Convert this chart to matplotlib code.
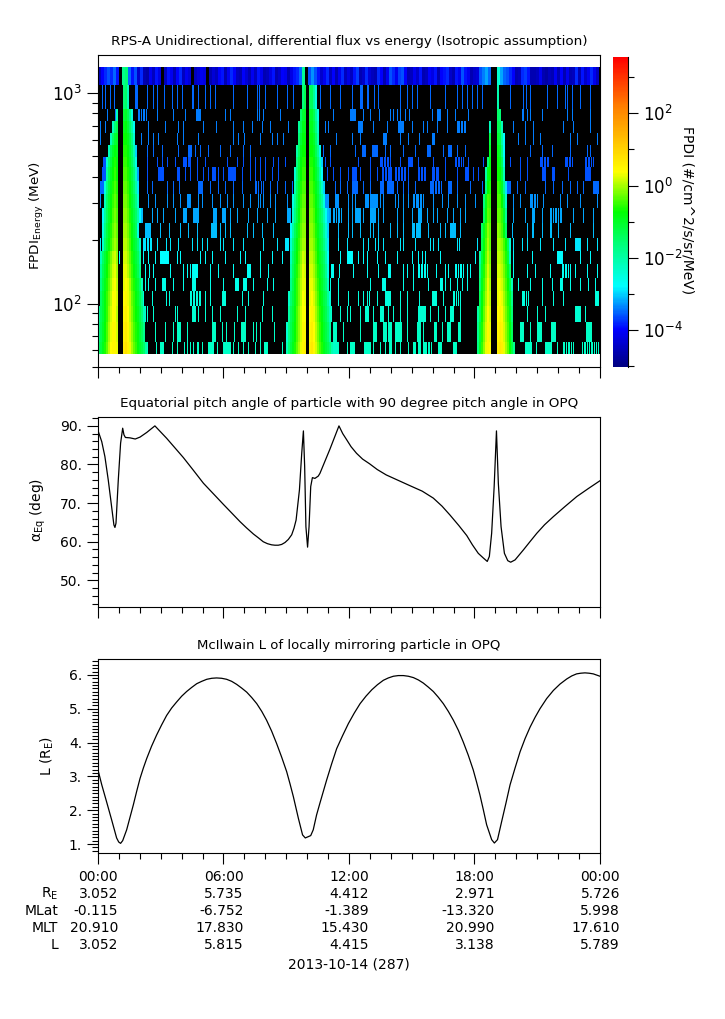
"""RPS-A flux spectrogram with pitch angle and L panels, 2013-10-14"""

import numpy as np
import matplotlib
matplotlib.use('Agg')
import matplotlib.pyplot as plt
from matplotlib.colors import LinearSegmentedColormap, LogNorm
from matplotlib.ticker import FixedLocator, NullFormatter, MultipleLocator, FormatStrFormatter

# energy channel edges (MeV), low to high
ENERGY_EDGES = [57.5, 65.6, 81.7, 97.3, 114.6, 132, 154, 177.5, 205, 242, 284,
                331, 382, 447, 496, 566, 645, 736, 840, 1091, 1327]
N_BINS = 502  # time bins over the day

# one count level (log10 flux) per channel
COUNT_LEVEL = [-2.3, -2.3, -2.4, -2.5, -2.6, -2.7, -2.8, -2.9, -3.1, -3.2,
               -3.3, -3.5, -3.6, -3.6, -3.5, -3.4, -3.4, -3.4, -3.5]

# time bins with counts, per channel
HITS_00 = [49, 58, 62, 63, 64, 65, 74, 79, 86, 89, 92, 95, 99, 100, 104, 110, 111, 112, 113, 114, 115, 119, 125, 126, 127, 128, 129, 130, 131, 132, 135, 140, 145, 150, 157, 162, 166, 167, 168, 169, 184, 232, 233, 234, 235, 236, 237, 238, 239, 240, 249, 252, 253, 254, 255, 256, 266, 267, 268, 269, 270, 271, 272, 275, 282, 287, 291, 292, 293, 297, 302, 310, 315, 316, 317, 320, 321, 322, 325, 326, 327, 328, 330, 331, 333, 340, 341, 342, 343, 355, 356, 357, 358, 427, 428, 429, 430, 431, 432, 433, 438, 447, 448, 449, 450, 451, 452, 453, 459, 465, 466, 468, 470, 471, 473, 475, 484, 486, 487, 489, 491, 493, 494, 496, 498, 500]
HITS_01 = [57, 67, 75, 79, 80, 81, 82, 89, 114, 115, 116, 117, 124, 128, 136, 143, 144, 145, 146, 147, 155, 158, 162, 176, 235, 236, 237, 238, 245, 262, 275, 276, 277, 278, 285, 286, 287, 288, 290, 291, 292, 293, 297, 298, 299, 300, 301, 302, 303, 309, 319, 320, 321, 322, 325, 336, 337, 338, 344, 349, 350, 351, 352, 360, 361, 362, 422, 423, 424, 425, 432, 439, 440, 441, 442, 443, 453, 454, 455, 456, 457, 488, 489, 490, 491, 492, 493]
HITS_02 = [47, 49, 55, 77, 79, 94, 95, 96, 97, 100, 107, 114, 122, 139, 147, 164, 174, 232, 233, 242, 249, 252, 262, 267, 268, 269, 270, 275, 282, 283, 284, 285, 290, 295, 302, 309, 320, 321, 322, 323, 324, 325, 326, 327, 332, 340, 347, 352, 353, 354, 355, 362, 429, 439, 447, 477, 478, 479, 480, 481, 482, 487]
HITS_03 = [45, 54, 68, 71, 92, 93, 95, 96, 98, 99, 101, 102, 107, 112, 124, 125, 126, 127, 144, 150, 165, 232, 240, 250, 260, 265, 269, 271, 279, 287, 288, 289, 290, 291, 292, 302, 309, 321, 334, 335, 336, 337, 338, 345, 355, 356, 358, 360, 362, 424, 425, 426, 428, 430, 444, 455, 465, 497, 498, 499, 500]
HITS_04 = [47, 50, 57, 64, 65, 66, 67, 75, 85, 94, 95, 96, 97, 112, 125, 137, 138, 139, 140, 145, 146, 147, 148, 155, 169, 175, 232, 240, 272, 284, 285, 286, 287, 305, 315, 330, 342, 343, 344, 347, 352, 359, 364, 369, 420, 432, 444, 454, 462, 463, 464, 472, 482, 490, 497]
HITS_05 = [47, 51, 55, 72, 85, 89, 92, 94, 95, 96, 97, 98, 99, 112, 120, 135, 149, 150, 151, 152, 162, 170, 233, 234, 235, 241, 255, 269, 280, 290, 291, 292, 305, 309, 315, 320, 321, 323, 324, 326, 327, 329, 338, 347, 350, 357, 358, 360, 362, 363, 365, 369, 372, 415, 429, 437, 452, 464, 465, 467, 468, 470, 472, 477, 489, 499]
HITS_06 = [0, 21, 45, 50, 57, 62, 63, 64, 65, 66, 67, 68, 69, 70, 79, 82, 102, 107, 114, 127, 142, 147, 162, 174, 184, 230, 242, 249, 250, 251, 252, 253, 254, 260, 265, 269, 279, 287, 299, 314, 320, 324, 327, 342, 377, 415, 434, 459, 460, 461, 462, 463, 464, 482, 492]
HITS_07 = [2, 45, 46, 47, 49, 50, 52, 53, 59, 68, 72, 80, 94, 99, 104, 109, 122, 125, 135, 145, 165, 179, 187, 188, 189, 190, 230, 240, 249, 265, 270, 277, 280, 285, 302, 305, 317, 332, 335, 340, 359, 361, 379, 415, 424, 429, 442, 455, 467, 477, 478, 479, 480, 481, 482, 489, 499]
HITS_08 = [4, 47, 48, 49, 50, 51, 52, 62, 71, 82, 90, 99, 113, 114, 115, 116, 117, 118, 122, 127, 132, 149, 155, 164, 175, 230, 240, 250, 254, 262, 272, 275, 280, 292, 299, 305, 314, 315, 316, 318, 319, 320, 321, 322, 330, 342, 347, 352, 353, 354, 355, 356, 357, 362, 414, 429, 434, 435, 444, 452, 453, 460, 472, 495]
HITS_09 = [5, 42, 43, 44, 54, 59, 65, 77, 85, 86, 87, 88, 95, 96, 97, 98, 99, 100, 115, 116, 117, 118, 124, 125, 126, 127, 132, 139, 150, 159, 169, 177, 189, 190, 191, 192, 227, 228, 229, 230, 231, 232, 235, 236, 238, 240, 241, 243, 250, 254, 257, 258, 259, 260, 261, 262, 265, 272, 273, 274, 275, 276, 277, 280, 285, 299, 305, 314, 320, 321, 322, 323, 329, 335, 339, 349, 355, 362, 367, 415, 427, 434, 435, 436, 444, 452, 453, 455, 457, 458, 460, 462, 463, 475, 485, 495]
HITS_10 = [2, 50, 57, 69, 75, 82, 89, 90, 91, 92, 100, 104, 114, 122, 129, 135, 145, 152, 160, 162, 165, 172, 177, 189, 194, 226, 227, 228, 229, 230, 237, 238, 239, 240, 250, 254, 257, 267, 268, 269, 270, 272, 273, 274, 275, 276, 277, 278, 279, 282, 285, 297, 300, 305, 310, 315, 316, 318, 319, 320, 322, 323, 325, 335, 344, 350, 359, 367, 377, 415, 422, 432, 433, 434, 436, 437, 439, 445, 462, 469, 482, 499]
HITS_11 = [2, 3, 4, 5, 49, 54, 69, 75, 81, 100, 101, 102, 103, 104, 112, 120, 127, 135, 144, 157, 158, 160, 163, 165, 172, 179, 187, 194, 225, 237, 242, 249, 254, 255, 256, 257, 258, 259, 265, 272, 282, 283, 284, 285, 289, 290, 291, 292, 293, 294, 295, 299, 305, 310, 317, 332, 333, 334, 335, 337, 338, 340, 341, 343, 350, 351, 352, 353, 359, 372, 384, 407, 408, 409, 410, 411, 412, 419, 427, 447, 455, 464, 472, 479, 485, 495, 496, 497, 498, 499, 500]
HITS_12 = [4, 5, 6, 7, 40, 49, 60, 61, 62, 63, 64, 65, 79, 80, 81, 87, 92, 99, 105, 110, 114, 115, 116, 117, 120, 125, 130, 131, 132, 133, 134, 135, 136, 137, 144, 152, 157, 162, 167, 174, 180, 229, 235, 242, 250, 254, 255, 256, 257, 258, 262, 272, 279, 284, 285, 287, 288, 290, 291, 292, 293, 297, 298, 300, 301, 303, 304, 306, 307, 310, 320, 321, 323, 324, 326, 327, 334, 335, 336, 338, 339, 340, 347, 359, 367, 368, 369, 370, 375, 380, 422, 429, 444, 445, 446, 447, 454, 455, 456, 470, 487, 488, 489, 490, 491, 492]
HITS_13 = [5, 6, 7, 49, 59, 64, 69, 77, 85, 86, 87, 88, 90, 91, 92, 99, 107, 129, 139, 145, 152, 157, 162, 167, 175, 180, 187, 227, 232, 260, 272, 282, 283, 284, 286, 287, 289, 290, 292, 302, 310, 311, 312, 313, 314, 320, 335, 347, 357, 358, 360, 361, 363, 365, 370, 385, 390, 412, 422, 429, 442, 443, 444, 446, 447, 449, 450, 467, 468, 469, 471, 472, 474, 487, 488, 490, 491, 493, 495]
HITS_14 = [49, 55, 64, 80, 90, 91, 92, 93, 97, 102, 110, 122, 132, 145, 152, 225, 232, 257, 264, 265, 266, 267, 274, 275, 276, 277, 278, 279, 287, 292, 305, 317, 329, 330, 331, 332, 345, 350, 351, 352, 353, 359, 367, 432, 444, 454, 472, 489, 492]
HITS_15 = [2, 43, 50, 55, 60, 79, 85, 100, 135, 140, 146, 162, 174, 179, 185, 219, 238, 254, 262, 285, 286, 287, 288, 302, 310, 321, 334, 335, 336, 420, 427, 435, 442, 472, 479, 499]
HITS_16 = [2, 7, 50, 67, 80, 85, 105, 118, 135, 145, 154, 164, 172, 190, 220, 227, 230, 260, 261, 262, 263, 264, 275, 289, 300, 301, 302, 303, 304, 305, 314, 325, 329, 339, 349, 359, 360, 361, 363, 364, 366, 367, 415, 427, 435, 465, 475, 492]
HITS_17 = [9, 17, 40, 41, 43, 45, 46, 48, 59, 75, 87, 98, 99, 100, 101, 102, 127, 132, 159, 161, 165, 182, 235, 252, 253, 254, 255, 256, 257, 265, 272, 281, 292, 295, 299, 302, 307, 311, 334, 339, 340, 341, 342, 349, 357, 370, 424, 425, 429, 432, 444, 469, 474, 492]
HITS_18 = [4, 7, 12, 16, 30, 37, 38, 39, 49, 55, 59, 66, 74, 79, 84, 94, 95, 100, 107, 112, 117, 135, 149, 159, 161, 167, 179, 189, 195, 222, 232, 242, 254, 262, 263, 264, 269, 270, 276, 280, 302, 309, 314, 319, 332, 347, 359, 364, 369, 374, 379, 384, 412, 425, 428, 432, 449, 459, 467, 469, 474, 482, 492]
HITS = [HITS_00, HITS_01, HITS_02, HITS_03, HITS_04, HITS_05, HITS_06, HITS_07, HITS_08, HITS_09,
        HITS_10, HITS_11, HITS_12, HITS_13, HITS_14, HITS_15, HITS_16, HITS_17, HITS_18]

# top channel, log10 flux, one value per 3 time bins (None = no data)
TOP_CHANNEL = [-4.5, -4.0, -3.8, -3.6, -3.8, -3.5, -3.9, None, -1.8, -1.6, -3.5, -3.9, -3.6, -4.4, -3.8,
               -4.6, -4.7, -4.1, -4.5, -3.9, -4.2, None, -4.5, -3.9, -4.1, -4.6, -4.0, -3.8, -4.5, -4.1,
               -4.3, None, -4.5, -4.3, -4.1, -4.2, None, -4.6, -4.3, -4.5, -4.0, -3.9, -4.6, -4.1, -3.8,
               -4.0, -4.5, -4.6, -4.0, -4.3, -4.6, -4.1, -4.5, -3.9, -4.1, -4.6, -4.5, -4.2, -3.9, -4.6,
               -4.4, -4.0, -4.1, -4.6, -4.2, -3.9, -3.8, -3.5, -1.9, None, -3.6, -3.3, -3.6, -3.9, -4.4,
               -4.1, -3.8, -4.5, -4.0, -4.6, -4.1, -3.8, -4.5, -4.2, -4.5, -3.9, -3.7, -4.6, -4.4, -3.8,
               -4.3, -4.5, -4.6, -3.8, -4.0, -4.6, -4.1, -3.6, -3.8, -4.1, -3.7, -3.6, -4.0, -4.6, -4.5,
               -4.1, -4.4, -3.9, -4.6, -4.5, -4.0, -4.2, -3.9, -4.6, -4.0, -3.9, -3.8, -4.4, -4.6, -3.9,
               -4.1, -3.6, -3.9, -4.1, -4.6, -4.4, -4.3, -3.6, -3.4, -3.2, -3.5, None, None, -2.4, -3.2, -3.5,
               -3.6, -3.8, -4.0, -4.6, -4.5, -3.8, -3.7, -3.9, -4.6, -4.6, -4.5, -4.1, -4.6, -4.7, -4.5,
               -4.6, -4.1, -4.6, -4.0, -4.6, -4.1, -4.6, -4.5, -3.8, -4.6, -3.9, -4.4, -4.1, -3.8, -4.1, -4.5]

# radiation belt passes: channel -> (first bin, log10 flux per 2 bins)
BELT_1A = {0: (0, [-1.6, -1.2, -0.9, -0.6, -0.3, 0.1, 0.4, 0.5, 0.5, 0.3]),
           1: (0, [-1.8, -1.3, -1, -0.7, -0.4, 0, 0.3, 0.5, 0.5, 0.2]),
           2: (0, [-2, -1.4, -1.1, -0.8, -0.5, -0.1, 0.2, 0.4, 0.4, 0.1]),
           3: (2, [-1.5, -1.1, -0.8, -0.5, -0.2, 0.1, 0.4, 0.4, 0.2]),
           4: (2, [-1.7, -1.2, -0.9, -0.6, -0.3, 0, 0.3, 0.4, 0.1]),
           5: (2, [-1.9, -1.3, -1, -0.7, -0.4, -0.1, 0.2, 0.3, 0]),
           6: (2, [-2.2, -1.5, -1.1, -0.8, -0.5, -0.2, 0.1, 0.2, -0.1]),
           7: (4, [-2.4, -1.5, -1.1, -0.8, -0.5, -0.2, 0, -0.2]),
           8: (4, [-2.6, -1.7, -1.2, -0.9, -0.6, -0.3, -0.1, -0.3]),
           9: (4, [-2.8, -1.9, -1.4, -1, -0.7, -0.4, -0.2, -0.4]),
           10: (6, [-2.2, -1.5, -1.1, -0.8, -0.5, -0.3, -0.5]),
           11: (6, [-2.5, -1.7, -1.2, -0.9, -0.6, -0.4, -0.6]),
           12: (8, [-2, -1.4, -1, -0.7, -0.5, -0.7]),
           13: (8, [-2.4, -1.6, -1.2, -0.8, -0.6, -0.8]),
           14: (10, [-2.2, -1.4, -1, -0.8, -0.9]),
           15: (12, [-2.2, -1.5, -1.1, -1]),
           16: (14, [-2.3, -1.6, -1.3]),
           17: (18, [-2.2])}
BELT_1B = {0: (25, [0.7, 0.8, 0.6, 0.3, 0, -0.3, -0.5, -0.8, -1, -1.2, -1.5, -2]),
           1: (25, [0.6, 0.7, 0.5, 0.2, -0.1, -0.4, -0.6, -0.8, -1.1, -1.4, -1.8]),
           2: (25, [0.5, 0.6, 0.4, 0.1, -0.2, -0.5, -0.7, -0.9, -1.2, -1.6, -2.2]),
           3: (25, [0.4, 0.5, 0.3, 0.1, -0.3, -0.5, -0.8, -1, -1.3, -1.8]),
           4: (25, [0.3, 0.4, 0.3, 0, -0.4, -0.6, -0.9, -1.1, -1.5, -2.2]),
           5: (25, [0.3, 0.3, 0.1, -0.2, -0.5, -0.8, -1, -1.3, -1.8]),
           6: (25, [0.2, 0.2, 0, -0.3, -0.6, -0.9, -1.1, -1.4, -2]),
           7: (25, [0.1, 0.1, -0.1, -0.4, -0.7, -1, -1.2, -1.6, -2.3]),
           8: (25, [0, 0, -0.2, -0.5, -0.8, -1.1, -1.4, -2.6]),
           9: (25, [-0.1, -0.1, -0.3, -0.6, -0.9, -1.2, -1.5, -2, -2.8, -3.1]),
           10: (25, [-0.2, -0.2, -0.4, -0.7, -1, -1.3, -1.7, -2.4]),
           11: (25, [-0.3, -0.3, -0.5, -0.8, -1.1, -1.5, -2, -2.9]),
           12: (25, [-0.4, -0.4, -0.6, -0.9, -1.2, -1.6, -2.3, -3.2]),
           13: (25, [-0.5, -0.5, -0.7, -1, -1.4, -1.9, -2.6]),
           14: (25, [-0.6, -0.6, -0.8, -1.1, -1.5, -2.1, -3]),
           15: (25, [-0.7, -0.7, -0.9, -1.2, -1.7, -2.4]),
           16: (25, [-0.9, -0.8, -1.1, -1.5, -2, -2.7]),
           17: (25, [-1.1, -1, -1.3, -1.8, -2.5]),
           18: (25, [-1.6, -1.5, -2.2])}
BELT_2A = {0: (188, [-2.2, -1.6, -1.2, -0.9, -0.6, -0.3, 0, 0.3, 0.5, 0.6]),
           1: (188, [-2.4, -1.7, -1.3, -1, -0.7, -0.4, -0.1, 0.2, 0.5, 0.5]),
           2: (190, [-2, -1.4, -1.1, -0.8, -0.4, -0.1, 0.2, 0.4, 0.4]),
           3: (190, [-2.3, -1.6, -1.2, -0.9, -0.5, -0.2, 0.1, 0.4, 0.3]),
           4: (192, [-1.8, -1.3, -0.9, -0.5, -0.2, 0.1, 0.3, 0.3]),
           5: (192, [-2, -1.4, -1, -0.6, -0.3, 0, 0.3, 0.2]),
           6: (192, [-2.2, -1.5, -1.1, -0.7, -0.4, -0.1, 0.2, 0.1]),
           7: (192, [-2.4, -1.7, -1.2, -0.8, -0.5, -0.2, 0, 0]),
           8: (192, [-2.8, -2, -1.4, -1, -0.6, -0.3, -0.1, -0.1]),
           9: (194, [-2.4, -1.7, -1.2, -0.8, -0.4, -0.2, -0.2]),
           10: (194, [-2.6, -1.9, -1.3, -0.9, -0.5, -0.3, -0.3]),
           11: (196, [-2.1, -1.4, -1, -0.6, -0.4, -0.4]),
           12: (196, [-2.4, -1.6, -1.1, -0.7, -0.5, -0.5]),
           13: (198, [-1.7, -1.2, -0.8, -0.6, -0.6]),
           14: (198, [-2, -1.4, -0.9, -0.7, -0.7]),
           15: (200, [-1.6, -1.1, -0.8, -0.8]),
           16: (200, [-1.9, -1.3, -0.9, -0.9]),
           17: (202, [-1.5, -1.1, -1]),
           18: (204, [-1.7, -1.3])}
BELT_2B = {0: (211, [0.6, 0.7, 0.5, 0.2, -0.1, -0.4, -0.6, -0.9, -1.1, -1.3, -1.6, -2.1]),
           1: (211, [0.5, 0.6, 0.4, 0.1, -0.2, -0.5, -0.7, -1, -1.2, -1.5, -2]),
           2: (211, [0.4, 0.5, 0.3, 0, -0.3, -0.6, -0.8, -1.1, -1.3, -1.7, -2.2]),
           3: (211, [0.3, 0.4, 0.2, -0.1, -0.4, -0.7, -0.9, -1.2, -1.4, -1.9, -2.5]),
           4: (211, [0.3, 0.3, 0.1, -0.2, -0.5, -0.8, -1, -1.3, -1.6, -2.3]),
           5: (211, [0.2, 0.2, 0, -0.3, -0.6, -0.9, -1.1, -1.4, -1.8, -2.6]),
           6: (211, [0.1, 0.1, -0.1, -0.4, -0.7, -1, -1.2, -1.5, -2, -2.8]),
           7: (211, [0, 0, -0.2, -0.5, -0.8, -1.1, -1.3, -1.7, -2.2, -2.9]),
           8: (211, [-0.1, -0.1, -0.3, -0.6, -0.9, -1.2, -1.4, -1.9, -2.4, -3]),
           9: (211, [-0.2, -0.2, -0.4, -0.7, -1, -1.3, -1.6, -2.1, -2.7, -3.1]),
           10: (211, [-0.3, -0.3, -0.5, -0.8, -1.1, -1.5, -1.9, -2.5]),
           11: (211, [-0.4, -0.4, -0.6, -0.9, -1.2, -1.7, -2.3, -3]),
           12: (211, [-0.5, -0.5, -0.7, -1, -1.4, -2, -2.8]),
           13: (211, [-0.6, -0.6, -0.8, -1.1, -1.6, -2.3, -3]),
           14: (211, [-0.7, -0.7, -0.9, -1.3, -1.8, -2.6]),
           15: (211, [-0.8, -0.8, -1, -1.5, -2.2]),
           16: (211, [-0.9, -0.9, -1.2, -1.7, -2.4]),
           17: (211, [-1, -1, -1.3, -1.9, -2.6]),
           18: (211, [-1.4, -1.4, -1.9, -2.6])}
BELT_3A = {0: (379, [-1.7, -1, -0.5, -0.1, 0.3, 0.5, 0.4]),
           1: (379, [-1.8, -1.1, -0.6, -0.2, 0.2, 0.5, 0.3]),
           2: (379, [-2, -1.3, -0.7, -0.3, 0.1, 0.4, 0.2]),
           3: (381, [-1.4, -0.8, -0.4, 0, 0.3, 0.1]),
           4: (381, [-1.6, -0.9, -0.5, -0.1, 0.3, 0]),
           5: (381, [-1.8, -1, -0.6, -0.2, 0.2, -0.1]),
           6: (381, [-2, -1.1, -0.7, -0.3, 0.1, -0.2]),
           7: (383, [-1.3, -0.8, -0.4, 0, -0.3]),
           8: (383, [-1.5, -0.9, -0.5, -0.1, -0.3]),
           9: (385, [-1.5, -0.8, -0.3, -0.4]),
           10: (385, [-1.7, -0.9, -0.4, -0.5]),
           11: (387, [-1.7, -0.7, -0.6]),
           12: (387, [-2, -0.9, -0.7]),
           13: (389, [-1.6, -0.8]),
           14: (391, [-1]),
           15: (391, [-1.2]),
           16: (391, [-2.2])}
BELT_3B = {0: (399, [0.6, 0.7, 0.6, 0.3, 0, -0.3, -0.7, -1.2, -1.8]),
           1: (399, [0.5, 0.6, 0.5, 0.2, -0.1, -0.4, -0.8, -1.4]),
           2: (399, [0.4, 0.5, 0.4, 0.1, -0.2, -0.5, -0.9, -1.6]),
           3: (399, [0.3, 0.4, 0.3, 0, -0.3, -0.6, -1, -1.8]),
           4: (399, [0.3, 0.3, 0.2, -0.1, -0.4, -0.7, -1.2, -2.2]),
           5: (399, [0.2, 0.2, 0.1, -0.2, -0.5, -0.9, -1.5]),
           6: (399, [0.1, 0.1, 0, -0.3, -0.6, -1.1, -2.3]),
           7: (399, [0, 0, -0.1, -0.4, -0.7, -1.3, -2.5]),
           8: (399, [-0.1, -0.2, -0.4, -0.8, -1.5]),
           9: (399, [-0.3, -0.3, -0.5, -1, -1.9]),
           10: (399, [-0.4, -0.4, -0.7, -1.3, -2.4]),
           11: (399, [-0.5, -0.6, -1, -1.8, -2.9]),
           12: (399, [-0.7, -0.7, -1.2, -2.2]),
           13: (399, [-0.8, -0.9, -1.4, -2.6]),
           14: (399, [-0.9, -1, -1.7, -2.8]),
           15: (399, [-1.1, -1.2, -2, -2.8]),
           16: (399, [-1.3, -1.4, -2.2]),
           17: (399, [-1.5, -1.6]),
           18: (399, [-2.1])}
BELTS = [BELT_1A, BELT_1B, BELT_2A, BELT_2B, BELT_3A, BELT_3B]

# equatorial pitch angle
ALPHA_HOURS = [0, .18, .33, .49, .65, .76, .81, .86, .97, 1.08, 1.18, 1.24, 1.31, 1.53, 1.78, 2.01, 2.33, 2.72, 3.0, 3.28,
               3.68, 4.08, 4.56, 5.04, 5.52, 5.99, 6.4, 6.79, 7.1, 7.43, 7.67, 7.9, 8.1, 8.3, 8.46, 8.62, 8.78, 8.94,
               9.1, 9.26, 9.37, 9.47, 9.63, 9.74, 9.82, 9.88, 9.94, 10.02, 10.09, 10.17, 10.25, 10.37, 10.53, 10.61,
               11.09, 11.52, 11.7, 11.89, 12.1, 12.36, 12.65, 12.98, 13.35, 13.78, 14.35, 14.92, 15.5, 16.03, 16.45,
               16.83, 17.25, 17.63, 17.9, 18.18, 18.42, 18.61, 18.71, 18.82, 18.94, 19.05, 19.14, 19.27, 19.43, 19.59,
               19.73, 19.94, 20.14, 20.34, 20.65, 20.98, 21.35, 21.77, 22.3, 22.89, 23.45, 24]
ALPHA_DEG = [88.8, 85.9, 82.05, 76, 69.1, 64.35, 63.7, 64.8, 76, 85.5, 89.4, 87.7, 87, 86.9, 86.6, 87.1, 88.3, 90, 88.4, 86.8,
             84.3, 81.8, 78.5, 75.15, 72.4, 69.7, 67.4, 65.2, 63.6, 62, 61, 60, 59.5, 59.2, 59.1, 59.1, 59.3, 59.8,
             60.6, 61.8, 63.5, 65.6, 73.4, 82.9, 88.7, 79.5, 63.9, 58.6, 63.9, 74.3, 76.6, 76.4, 77, 77.7,
             84, 90, 88, 86.4, 84.6, 82.9, 81.4, 80.2, 78.7, 77.3, 75.9, 74.5, 73.1, 71.3, 69.2,
             66.9, 64.2, 61.6, 59.2, 57, 55.8, 54.9, 56.2, 62.2, 74.3, 88.7, 75.1, 63.9, 57, 55.1,
             54.7, 55.3, 56.6, 57.9, 60, 62.2, 64.4, 66.5, 69, 71.7, 73.8, 75.8]

# McIlwain L
L_HOURS = [0, .18, .41, .65, .89, .99, 1.08, 1.18, 1.37, 1.69, 1.85, 2.01, 2.17, 2.33, 2.56, 2.8, 3.04, 3.28, 3.52, 3.76,
           4.0, 4.24, 4.48, 4.72, 4.96, 5.2, 5.44, 5.67, 5.91, 6.15, 6.39, 6.63, 6.87, 7.11, 7.35, 7.59, 7.83, 8.06,
           8.3, 8.54, 8.78, 9.02, 9.18, 9.34, 9.58, 9.78, 9.91, 10.06, 10.17, 10.29, 10.45, 10.61, 10.77, 10.93,
           11.17, 11.41, 11.69, 11.97, 12.25, 12.53, 12.81, 13.09, 13.36, 13.64, 13.88, 14.12, 14.36, 14.6, 14.84,
           15.08, 15.32, 15.55, 15.79, 16.03, 16.27, 16.51, 16.75, 16.99, 17.23, 17.46, 17.7, 17.94, 18.1, 18.26,
           18.42, 18.58, 18.82, 18.95, 19.1, 19.3, 19.5, 19.7, 19.94, 20.18, 20.42, 20.66, 20.9, 21.13, 21.45, 21.77,
           22.09, 22.41, 22.65, 22.88, 23.08, 23.28, 23.48, 23.68, 24]
L_VALUES = [3.19, 2.75, 2.25, 1.72, 1.18, 1.06, 1.02, 1.1, 1.42, 2.16, 2.56, 2.94, 3.25, 3.53, 3.89, 4.22, 4.52, 4.8, 5.02, 5.2,
            5.37, 5.51, 5.63, 5.74, 5.81, 5.87, 5.9, 5.91, 5.9, 5.87, 5.81, 5.72, 5.61, 5.49, 5.33, 5.15, 4.92, 4.66,
            4.34, 3.97, 3.57, 3.14, 2.78, 2.4, 1.76, 1.27, 1.18, 1.22, 1.25, 1.42, 1.86, 2.21, 2.55, 2.89,
            3.37, 3.82, 4.2, 4.56, 4.87, 5.15, 5.37, 5.56, 5.71, 5.84, 5.91, 5.96, 5.98, 5.98, 5.96,
            5.92, 5.85, 5.76, 5.64, 5.51, 5.34, 5.15, 4.92, 4.66, 4.36, 4.02, 3.63, 3.19, 2.83, 2.45,
            2.02, 1.57, 1.13, 1.03, 1.13, 1.67, 2.2, 2.75, 3.25, 3.73, 4.12, 4.46, 4.75, 5, 5.3, 5.54,
            5.73, 5.88, 5.97, 6.03, 6.05, 6.06, 6.05, 6.03, 5.96]

# ephemeris table under the x axis
TICK_HOURS = [0, 6, 12, 18, 24]
TIME_LABELS = ['00:00', '06:00', '12:00', '18:00', '00:00']
EPHEM_NAMES = ['R$_{\\mathrm{E}}$', 'MLat', 'MLT', 'L']
EPHEM_RE = ['3.052', '5.735', '4.412', '2.971', '5.726']
EPHEM_MLAT = ['-0.115', '-6.752', '-1.389', '-13.320', '5.998']
EPHEM_MLT = ['20.910', '17.830', '15.430', '20.990', '17.610']
EPHEM_L = ['3.052', '5.815', '4.415', '3.138', '5.789']

W, H = 725, 1019
TITLE_SIZE = 9.7


def panel(left, top, right, bottom):
    return fig.add_axes([left / W, 1 - bottom / H, (right - left) / W, (bottom - top) / H])


# fill the flux table
flux = np.full((len(ENERGY_EDGES) - 1, N_BINS), np.nan)
for ch, bins in enumerate(HITS):
    flux[ch, bins] = 10.0 ** COUNT_LEVEL[ch]
for i, level in enumerate(TOP_CHANNEL):
    if level is not None:
        flux[19, i * 3:i * 3 + 3] = 10.0 ** level
for belt in BELTS:
    for ch, (first, levels) in belt.items():
        for i, level in enumerate(levels):
            flux[ch, first + i * 2:first + i * 2 + 2] = 10.0 ** level

colors = [(0, (0, 0, .5)), (.12, (0, 0, 1)), (.26, (0, 1, 1)), (.39, (0, 1, .5)), (.5, (0, 1, 0)),
          (.63, (1, 1, 0)), (.84, (1, .5, 0)), (1, (1, 0, 0))]
cmap = LinearSegmentedColormap.from_list('rainbow_fpdi', colors, N=256)
cmap.set_bad('black')
norm = LogNorm(vmin=10 ** -5.02, vmax=10 ** 3.56)

plt.rcParams['mathtext.default'] = 'regular'
fig = plt.figure(figsize=(W / 100, H / 100), dpi=100)

ax1 = panel(98, 55, 600, 367)
ax2 = panel(98, 417, 600, 607)
ax3 = panel(98, 659, 600, 853)
cax = panel(613, 57, 628, 367)

time_edges = np.linspace(0, 24, N_BINS + 1)
mesh = ax1.pcolormesh(time_edges, ENERGY_EDGES, np.ma.masked_invalid(flux), cmap=cmap, norm=norm,
                      antialiased=False, linewidth=0, rasterized=True)
ax1.set_yscale('log')
ax1.set_ylim(50, 1516)
ax1.set_ylabel('FPDI$_{Energy}$ (MeV)', fontsize=TITLE_SIZE, va='center')
ax1.yaxis.set_label_coords((37 - 98) / 502, .484)
ax1.set_title('RPS-A Unidirectional, differential flux vs energy (Isotropic assumption)', fontsize=TITLE_SIZE, pad=7)
ax1.yaxis.set_minor_formatter(NullFormatter())

ax2.plot(ALPHA_HOURS, ALPHA_DEG, color='black', lw=.9)
ax2.set_ylim(43.1, 92.3)
ax2.yaxis.set_major_locator(MultipleLocator(10))
ax2.yaxis.set_minor_locator(MultipleLocator(2))
ax2.yaxis.set_major_formatter(FormatStrFormatter('%d.'))
ax2.set_ylabel('$\\alpha_{Eq}$ (deg)', fontsize=10, va='center')
ax2.yaxis.set_label_coords((38 - 98) / 502, .51)
ax2.set_title('Equatorial pitch angle of particle with 90 degree pitch angle in OPQ', fontsize=TITLE_SIZE, pad=7)

ax3.plot(L_HOURS, L_VALUES, color='black', lw=.9)
ax3.set_ylim(.735, 6.47)
ax3.yaxis.set_major_locator(MultipleLocator(1))
ax3.yaxis.set_minor_locator(MultipleLocator(.1))
ax3.yaxis.set_major_formatter(FormatStrFormatter('%d.'))
ax3.set_ylabel('L (R$_E$)', fontsize=10, va='center')
ax3.yaxis.set_label_coords((47 - 98) / 502, .5)
ax3.set_title('McIlwain L of locally mirroring particle in OPQ', fontsize=9.5, pad=7)

for ax in (ax1, ax2, ax3):
    ax.set_xlim(0, 24)
    ax.xaxis.set_major_locator(FixedLocator(TICK_HOURS))
    ax.xaxis.set_minor_locator(MultipleLocator(1))
    ax.xaxis.set_major_formatter(NullFormatter())
    ax.tick_params(which='major', length=8, width=.8, labelsize=10)
    ax.tick_params(which='minor', length=4, width=.8)
    for s in ax.spines.values():
        s.set_linewidth(.8)
ax1.tick_params(axis='y', which='major', labelsize=12)

# table under the last panel
rows = [TIME_LABELS, EPHEM_RE, EPHEM_MLAT, EPHEM_MLT, EPHEM_L]
row_y = [877, 893.5, 911, 927.5, 945]
for name, y in zip(EPHEM_NAMES, row_y[1:]):
    fig.text(58 / W, 1 - y / H, name, ha='right', va='center', fontsize=10)
for labels, y in zip(rows, row_y):
    for hour, s in zip(TICK_HOURS, labels):
        ax3.annotate(s, (hour, 0), xycoords=ax3.get_xaxis_transform(), xytext=(14.4, -(y - 853) * .72),
                     textcoords='offset points', ha='right', va='center', fontsize=10)
fig.text(349 / W, 1 - 965 / H, '2013-10-14 (287)', ha='center', va='center', fontsize=10)

# colorbar
cb = fig.colorbar(mesh, cax=cax)
cb.outline.set_visible(False)
cax.spines['right'].set_visible(True)
cax.spines['right'].set_linewidth(.8)
cax.yaxis.set_major_locator(FixedLocator([1e-4, 1e-2, 1, 1e2]))
cax.yaxis.set_minor_locator(FixedLocator([1e-5, 1e-3, 1e-1, 1e1, 1e3]))
cax.yaxis.set_minor_formatter(NullFormatter())
cax.tick_params(which='major', length=7.5, width=.8, labelsize=12)
cax.tick_params(which='minor', length=4, width=.8)
fig.text(688 / W, 1 - 210 / H, 'FPDI (#/cm^2/s/sr/MeV)', rotation=270, ha='center', va='center', fontsize=10)

fig.savefig('out.png', dpi=100)
